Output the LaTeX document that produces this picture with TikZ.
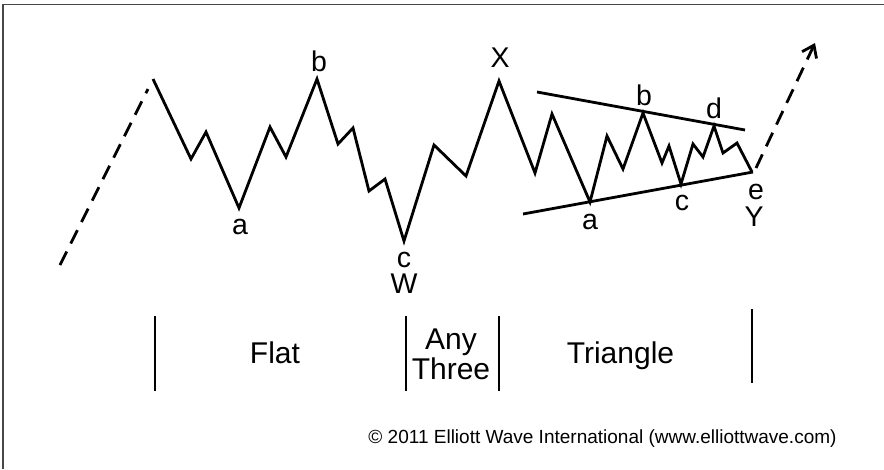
\documentclass[tikz,border=0pt]{standalone}
\usepackage{fontspec}
\setmainfont{Liberation Sans}
\usetikzlibrary{arrows.meta}
\begin{document}
\begin{tikzpicture}[x=1pt,y=-1pt,
  wave/.style={line width=2.8pt, line join=miter, miter limit=6},
  trend/.style={line width=2.8pt},
  dashline/.style={line width=2.8pt, dash pattern=on 15pt off 9pt},
  lbl/.style={font=\fontsize{28.5}{30}\selectfont, inner sep=0pt},
  sect/.style={font=\fontsize{30}{30}\selectfont, inner sep=0pt, align=center},
  bar/.style={line width=2.8pt},
  frameline/.style={draw=black!72, line width=1.6pt},
  note/.style={font=\fontsize{19}{20}\selectfont, inner sep=0pt, anchor=base}]
\useasboundingbox (0,0) rectangle (884,469);
% frame (top and left edges only)
\coordinate (F0) at (2.7,469);
\coordinate (F1) at (2.7,4.5);
\coordinate (F2) at (884,4.5);
\draw[frameline] (F0) -- (F1) -- (F2);
% leading dashed line
\coordinate (L0) at (60,265);
\coordinate (L1) at (148,89);
\draw[dashline] (L0) -- (L1);
% wave vertices
\coordinate (w0) at (153,79);
\coordinate (w1) at (191,159);
\coordinate (w2) at (206,132);
\coordinate (wa) at (239,208);
\coordinate (w4) at (270,127);
\coordinate (w5) at (286,157);
\coordinate (wb) at (317,79);
\coordinate (w7) at (338,144);
\coordinate (w8) at (353,128);
\coordinate (w9) at (369,191);
\coordinate (w10) at (385,179);
\coordinate (wc) at (404,241);
\coordinate (w12) at (434,145);
\coordinate (w13) at (466,176);
\coordinate (wX) at (499,81);
\coordinate (w15) at (535,173);
\coordinate (w16) at (552,114);
\coordinate (ta) at (590,202);
\coordinate (t1) at (607,136);
\coordinate (t2) at (623,169);
\coordinate (tb) at (643,113);
\coordinate (t4) at (662,163);
\coordinate (t5) at (669,146);
\coordinate (tc) at (681,184);
\coordinate (t7) at (693,144);
\coordinate (t8) at (703,157);
\coordinate (td) at (714,126);
\coordinate (t10) at (723,153);
\coordinate (t11) at (737,143);
\coordinate (te) at (752,172);
\draw[wave] (w0) -- (w1) -- (w2) -- (wa) -- (w4) -- (w5) -- (wb) -- (w7) -- (w8)
  -- (w9) -- (w10) -- (wc) -- (w12) -- (w13) -- (wX) -- (w15) -- (w16) -- (ta)
  -- (t1) -- (t2) -- (tb) -- (t4) -- (t5) -- (tc) -- (t7) -- (t8) -- (td)
  -- (t10) -- (t11) -- (te);
% triangle trendlines
\coordinate (u0) at (537,92);
\coordinate (u1) at (745,130);
\coordinate (d0) at (523,214);
\coordinate (d1) at (753,172);
\draw[trend] (u0) -- (u1);
\draw[trend] (d0) -- (d1);
% trailing dashed arrow
\coordinate (A0) at (756,168);
\coordinate (A1) at (815,43);
\draw[dashline, -{Straight Barb[length=11pt,width=16pt]}] (A0) -- (A1);
% wave labels
\node[lbl] (la1) at (240,227) {a};
\node[lbl] (lb1) at (319,61) {b};
\node[lbl] (lc1) at (404,259.5) {c};
\node[lbl] (lW) at (404,284) {W};
\node[lbl] (lX) at (500,58) {X};
\node[lbl] (la2) at (590,221.5) {a};
\node[lbl] (lb2) at (644,95) {b};
\node[lbl] (lc2) at (682,203) {c};
\node[lbl] (ld2) at (714,108) {d};
\node[lbl] (le2) at (756,192) {e};
\node[lbl] (lY) at (754,217) {Y};
% section bars
\coordinate (s0t) at (155,316);
\coordinate (s0b) at (155,391);
\coordinate (s1t) at (406,316);
\coordinate (s1b) at (406,391);
\coordinate (s2t) at (499,316);
\coordinate (s2b) at (499,391);
\coordinate (s3t) at (752,309);
\coordinate (s3b) at (752,383);
\draw[bar] (s0t) -- (s0b);
\draw[bar] (s1t) -- (s1b);
\draw[bar] (s2t) -- (s2b);
\draw[bar] (s3t) -- (s3b);
% section labels
\node[sect, anchor=base] (flat) at (275,363) {Flat};
\node[sect, anchor=base] (tri) at (620.5,363) {Triangle};
\node[sect] (any) at (451,354.5) {Any\\Three};
% copyright
\node[note] (copy) at (602.5,443) {© 2011 Elliott Wave International (www.elliottwave.com)};
\end{tikzpicture}
\end{document}
